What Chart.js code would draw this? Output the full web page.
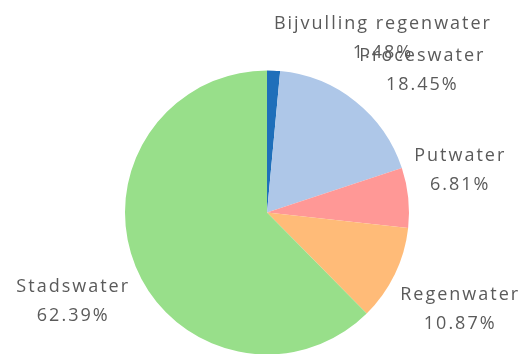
<!DOCTYPE html>
<html>
<head>
<meta charset="utf-8">
<script src="https://cdn.jsdelivr.net/npm/chart.js@4.4.0/dist/chart.umd.min.js"></script>
<style>
  html, body { margin: 0; padding: 0; background: #fff; }
  #wrap { width: 525px; height: 354px; }
</style>
</head>
<body>
<div id="wrap"><canvas id="pieChart" width="525" height="354"></canvas></div>
<script>
// Waterbronnen, aandeel in procent
var bronnen = ['Bijvulling regenwater', 'Proceswater', 'Putwater', 'Regenwater', 'Stadswater'];
var aandeel = [1.48, 18.45, 6.81, 10.87, 62.39];
var kleuren = ['#1f6fba', '#aec7e8', '#ff9896', '#ffbb78', '#98df8a'];

// labels buiten de taart: naam + percentage, als blok tegen de rand
var buitenLabels = {
    id: 'buitenLabels',
    afterDatasetsDraw: function(chart) {
        var ctx = chart.ctx;
        var meta = chart.getDatasetMeta(0);
        var lijn = 29.5;
        ctx.save();
        ctx.font = '18px "Open Sans"';
        ctx.letterSpacing = '2px';
        ctx.fillStyle = '#5a5a5a';
        ctx.textAlign = 'center';
        ctx.textBaseline = 'middle';
        meta.data.forEach(function(arc, i) {
            var hoek = (arc.startAngle + arc.endAngle) / 2;
            var r = arc.outerRadius + 6;
            var px = arc.x + Math.cos(hoek) * r;
            var py = arc.y + Math.sin(hoek) * r + 3;
            var regels = [bronnen[i], aandeel[i].toFixed(2) + '%'];
            var w = Math.max(ctx.measureText(regels[0]).width, ctx.measureText(regels[1]).width);
            var h = lijn * 2;
            var links = px >= arc.x ? px : px - w;
            var boven = py < arc.y ? py - h : py;
            regels.forEach(function(t, j) {
                ctx.fillText(t, links + w / 2, boven + lijn / 2 + j * lijn);
            });
        });
        ctx.restore();
    }
};

var ctx = document.getElementById('pieChart').getContext('2d');
var pieChart = new Chart(ctx, {
    type: 'pie',
    data: {
        labels: bronnen,
        datasets: [{
            data: aandeel,
            backgroundColor: kleuren,
            borderWidth: 0,
            radius: 142
        }]
    },
    options: {
        responsive: false,
        animation: false,
        layout: { padding: { top: 71, bottom: 0, left: 9, right: 0 } },
        plugins: {
            legend: { display: false },
            tooltip: { enabled: false }
        }
    },
    plugins: [buitenLabels]
});
</script>
</body>
</html>
